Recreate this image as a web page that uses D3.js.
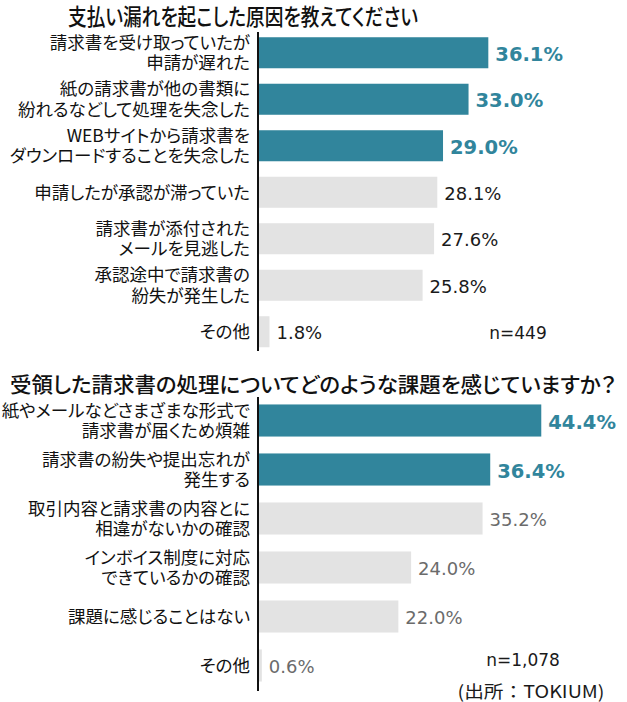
<!DOCTYPE html>
<html><head><meta charset="utf-8">
<script src="https://cdn.jsdelivr.net/npm/d3@7"></script>
<style>
html,body{margin:0;padding:0;background:#fff;}
svg text.palt{font-feature-settings:"palt";}
</style></head>
<body>
<svg id="c" width="627" height="702"></svg>
<script>
// ---- data ----
const title1 = "支払い漏れを起こした原因を教えてください";
const categories1 = [
  ["請求書を受け取っていたが","申請が遅れた"],
  ["紙の請求書が他の書類に","紛れるなどして処理を失念した"],
  ["WEBサイトから請求書を","ダウンロードすることを失念した"],
  ["申請したが承認が滞っていた"],
  ["請求書が添付された","メールを見逃した"],
  ["承認途中で請求書の","紛失が発生した"],
  ["その他"]
];
const values1 = [36.1, 33.0, 29.0, 28.1, 27.6, 25.8, 1.8];
const highlight1 = [true, true, true, false, false, false, false];
const note1 = "n=449";

const title2 = "受領した請求書の処理についてどのような課題を感じていますか？";
const categories2 = [
  ["紙やメールなどさまざまな形式で","請求書が届くため煩雑"],
  ["請求書の紛失や提出忘れが","発生する"],
  ["取引内容と請求書の内容とに","相違がないかの確認"],
  ["インボイス制度に対応","できているかの確認"],
  ["課題に感じることはない"],
  ["その他"]
];
const values2 = [44.4, 36.4, 35.2, 24.0, 22.0, 0.6];
const highlight2 = [true, true, false, false, false, false];
const note2 = "n=1,078";
const source = "(出所：TOKIUM)";

// ---- drawing ----
const svg = d3.select("#c");
const TEAL = "#31859C", GRAY = "#E3E3E3";
const jp = "'Noto Sans CJK JP','Noto Sans',sans-serif";
const num = "'DejaVu Sans','Noto Sans',sans-serif";
const x0 = 258;
const x = d3.scaleLinear().domain([0, 10]).range([x0, x0 + 63.8]);

function panel(cfg) {
  const g = svg.append("g");
  const y = d3.scaleBand().domain(d3.range(cfg.cats.length))
    .range(cfg.yRange).paddingInner(cfg.padIn).paddingOuter(cfg.padIn / 2);
  g.append("text").attr("class", "palt")
    .attr("x", cfg.titleX).attr("y", cfg.titleY)
    .attr("text-anchor", "middle").attr("font-family", jp)
    .attr("font-size", cfg.titleSize).attr("font-weight", 500)
    .attr("textLength", cfg.titleLen).attr("lengthAdjust", "spacingAndGlyphs")
    .attr("fill", "#111").text(cfg.title);
  g.selectAll("rect.bar").data(cfg.vals).join("rect")
    .attr("x", x(0)).attr("y", (d, i) => y(i))
    .attr("width", d => x(d) - x(0)).attr("height", y.bandwidth())
    .attr("fill", (d, i) => cfg.hl[i] ? TEAL : GRAY);
  // category labels, one text per line
  cfg.cats.forEach((lines, i) => {
    const cy = y(i) + y.bandwidth() / 2;
    const lh = 20.5;
    lines.forEach((s, k) => {
      g.append("text").attr("class", "palt")
        .attr("font-family", jp).attr("font-size", 17.5).attr("fill", "#111")
        .attr("text-anchor", "end").attr("x", 250)
        .attr("y", cy + (k - (lines.length - 1) / 2) * lh)
        .attr("dy", "0.36em").text(s);
    });
  });
  // value labels
  g.selectAll("text.val").data(cfg.vals).join("text")
    .attr("x", d => x(d) + 7)
    .attr("y", (d, i) => y(i) + y.bandwidth() / 2 + 1)
    .attr("dy", "0.36em").attr("font-family", num)
    .attr("font-size", (d, i) => cfg.hl[i] ? 19.5 : 18)
    .attr("font-weight", (d, i) => cfg.hl[i] ? "bold" : "normal")
    .attr("fill", (d, i) => cfg.hl[i] ? TEAL : cfg.otherColor)
    .text(d => d.toFixed(1) + "%");
  // axis line
  g.append("line").attr("x1", x0).attr("x2", x0)
    .attr("y1", cfg.axis[0]).attr("y2", cfg.axis[1])
    .attr("stroke", "#111").attr("stroke-width", 2);
  return g;
}

panel({title: title1, titleX: 243, titleY: 25, titleSize: 22.5, titleLen: 350,
  cats: categories1, vals: values1, hl: highlight1,
  yRange: [29.5, 355], padIn: 0.333, axis: [32, 351], otherColor: "#1a1a1a"});
panel({title: title2, titleX: 313, titleY: 392, titleSize: 21, titleLen: 606,
  cats: categories2, vals: values2, hl: highlight2,
  yRange: [396, 690], padIn: 0.345, axis: [397, 691], otherColor: "#6b6b6b"});

svg.append("text").attr("x", 518).attr("y", 339).attr("text-anchor", "middle")
  .attr("font-family", num).attr("font-size", 17).attr("fill", "#1a1a1a").text(note1);
svg.append("text").attr("x", 523).attr("y", 666).attr("text-anchor", "middle")
  .attr("font-family", num).attr("font-size", 17).attr("fill", "#1a1a1a").text(note2);
svg.append("text").attr("x", 531).attr("y", 698).attr("text-anchor", "middle")
  .attr("font-family", jp).attr("font-size", 17.5)
  .attr("textLength", 147).attr("lengthAdjust", "spacingAndGlyphs")
  .attr("fill", "#1a1a1a").text(source);
</script>
</body></html>
